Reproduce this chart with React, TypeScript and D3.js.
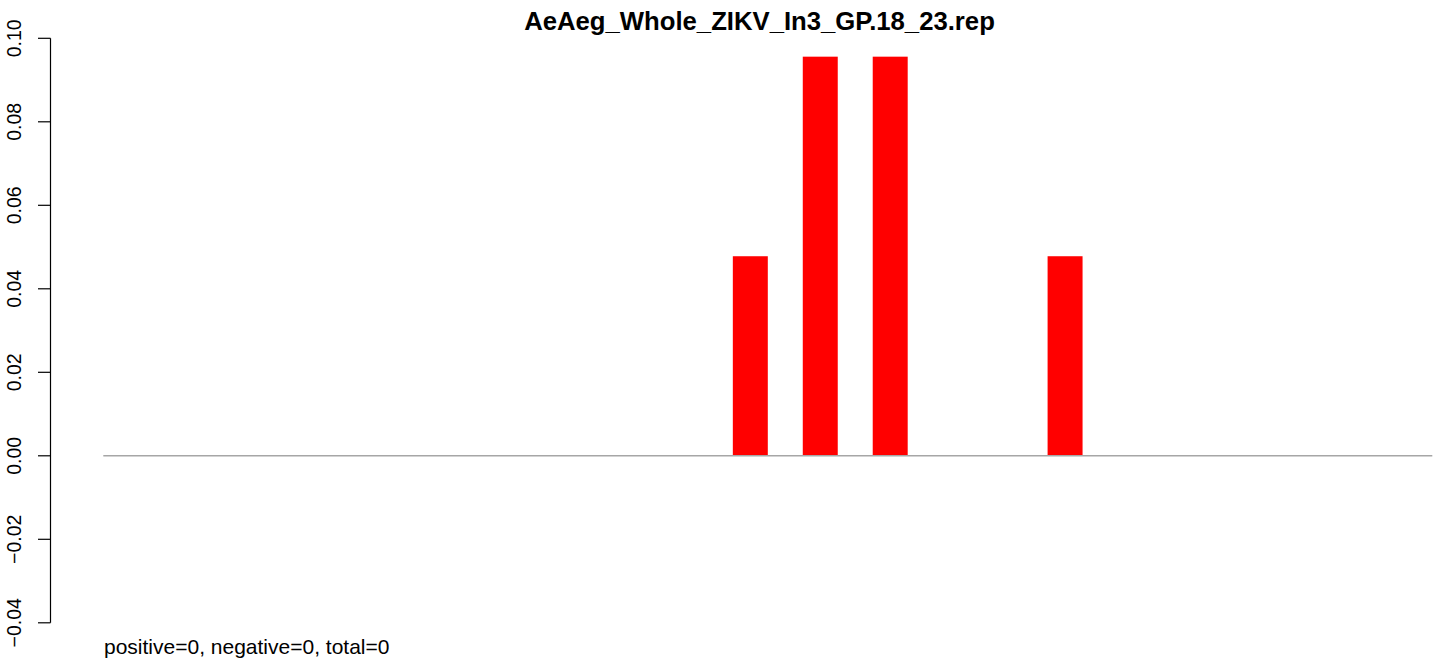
import React from 'react';
import * as d3 from 'd3';

const title = 'AeAeg_Whole_ZIKV_In3_GP.18_23.rep';
const footer = 'positive=0, negative=0, total=0';
const yTicks = [-0.04, -0.02, 0, 0.02, 0.04, 0.06, 0.08, 0.1];
const barStart = [18, 20, 22, 27];
const barValue = [0.0478, 0.0956, 0.0956, 0.0478];
const barWidth = 1;
const xDomain = [0, 38];

const W = 1439;
const H = 661;
const FONT = '"Liberation Sans", Arial, Helvetica, sans-serif';

export default function App() {
  const x = d3.scaleLinear().domain(xDomain).range([103.3, 1432.3]);
  const y = d3.scaleLinear().domain([-0.04, 0.1]).range([622.8, 38.3]);
  const fmt = (v: number) => d3.format('.2f')(v).replace('-', '\u2212');
  const axisX = 50.5;
  return (
    <svg width={W} height={H} style={{ position: 'absolute', left: 0, top: 0, background: '#fff' }}>
      <rect x={0} y={0} width={W} height={H} fill="#fff" />
      <text x={759.5} y={30} textAnchor="middle" fontFamily={FONT} fontWeight="bold" fontSize={25.7} fill="#000">
        {title}
      </text>
      {barStart.map((s, i) => (
        <rect
          key={i}
          x={x(s)}
          y={y(barValue[i])}
          width={x(s + barWidth) - x(s)}
          height={y(0) - y(barValue[i])}
          fill="#ff0000"
        />
      ))}
      <line x1={x(xDomain[0])} x2={x(xDomain[1])} y1={y(0)} y2={y(0)} stroke="#a6a6a6" strokeWidth={1.5} />
      <g>
        <line x1={axisX} x2={axisX} y1={y(yTicks[0])} y2={y(yTicks[yTicks.length - 1])} stroke="#000" strokeWidth={1.2} />
        {yTicks.map((t) => (
          <g key={t}>
            <line x1={axisX - 12.5} x2={axisX} y1={y(t)} y2={y(t)} stroke="#000" strokeWidth={1.2} />
            <text
              transform={`translate(20.7,${y(t)}) rotate(-90)`}
              textAnchor="middle"
              fontFamily={FONT}
              fontSize={19.5}
              fill="#000"
            >
              {fmt(t)}
            </text>
          </g>
        ))}
      </g>
      <text x={104} y={654} fontFamily={FONT} fontSize={21} fill="#000">
        {footer}
      </text>
    </svg>
  );
}
